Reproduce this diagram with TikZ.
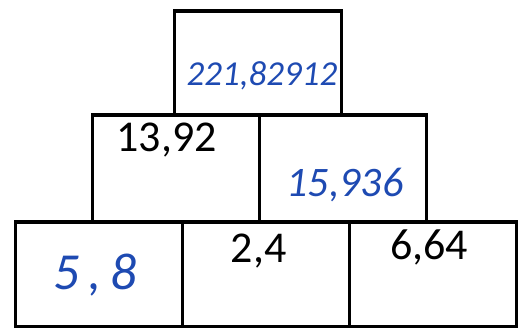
\documentclass[tikz,border=0pt]{standalone}
\usepackage{fontspec}
\setmainfont{Carlito}
\newfontfamily\handfont{Carlito}
\usetikzlibrary{positioning}
\definecolor{handblue}{RGB}{30,74,178}

\begin{document}
\begin{tikzpicture}[x=1pt, y=-1pt,
  cell/.style={draw, line width=3.5pt, inner sep=0pt, outer sep=0pt,
    minimum width=167pt, anchor=north west},
  printed/.style={font=\fontsize{44}{44}\selectfont, text=black, anchor=base},
  written/.style={font=\fontsize{#1}{#1}\handfont\itshape, text=handblue, anchor=base}]
  \useasboundingbox (0,0) rectangle (519,328);

  % Bottom row
  \node[cell, minimum height=104.5pt] (b1) at (15.5,222) {};
  \node[cell, minimum height=104.5pt, right=0pt of b1] (b2) {};
  \node[cell, minimum height=104.5pt, right=0pt of b2] (b3) {};

  % Middle row
  \node[cell, minimum height=107pt] (m1) at (92.5,115) {};
  \node[cell, minimum height=107pt, right=0pt of m1] (m2) {};

  % Top
  \node[cell, minimum height=104pt] (t1) at (174.5,11) {};

  % Printed values
  \node[printed] (m1val) at (166.5,152) {13,92};
  \node[printed] (b2val) at (258.5,263) {2,4};
  \node[printed] (b3val) at (429,260) {6,64};

  % Handwritten values
  \node[written=35] (t1val) at (262,86) {221,82912};
  \node[written=42] (m2val) at (345,197) {15,936};
  \node[written=52] (b1val) at (95,290) {5\,,\,8};
\end{tikzpicture}
\end{document}
